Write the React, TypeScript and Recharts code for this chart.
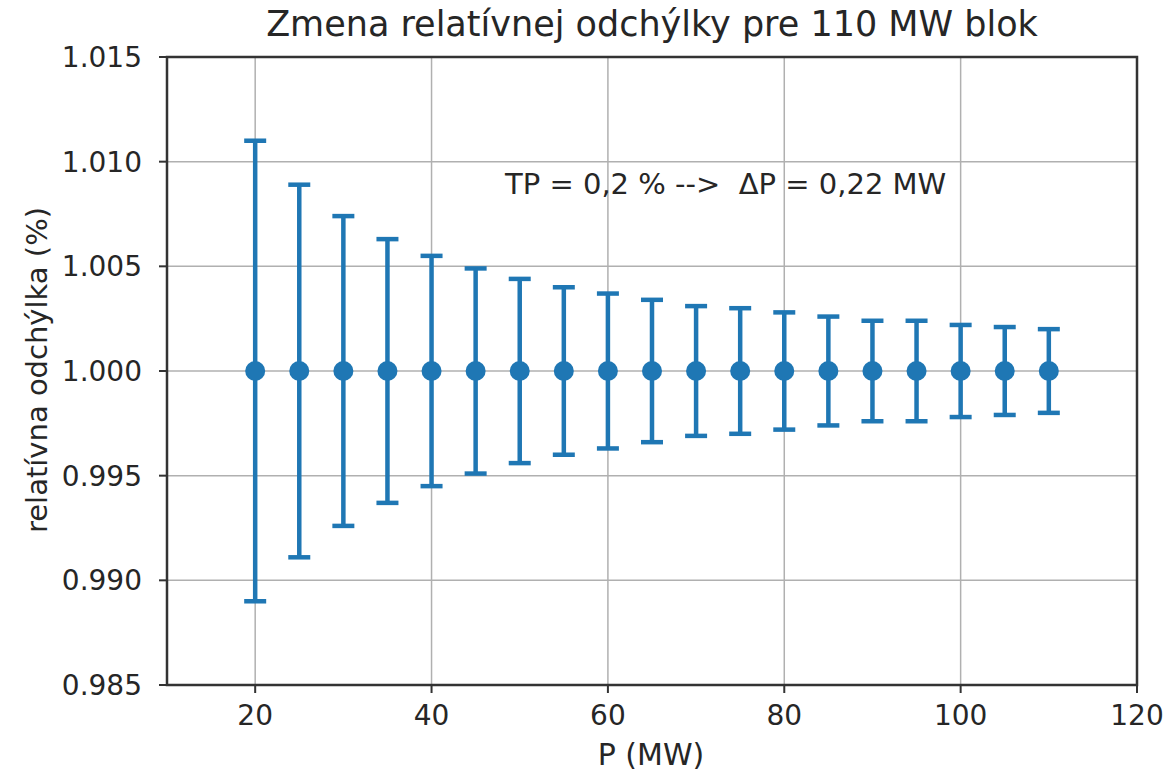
import React from "react";
import {
  ScatterChart,
  Scatter,
  XAxis,
  YAxis,
  CartesianGrid,
  ErrorBar,
  ReferenceArea,
} from "recharts";

const powers = [20, 25, 30, 35, 40, 45, 50, 55, 60, 65, 70, 75, 80, 85, 90, 95, 100, 105, 110];
const deviations = [0.011, 0.0089, 0.0074, 0.0063, 0.0055, 0.0049, 0.0044, 0.004, 0.0037, 0.0034, 0.0031, 0.003, 0.0028, 0.0026, 0.0024, 0.0024, 0.0022, 0.0021, 0.002];
const xTicks = [20, 40, 60, 80, 100, 120];
const yTicks = [0.985, 0.99, 0.995, 1.0, 1.005, 1.01, 1.015];

const data = powers.map((p, i) => ({ p, rel: 1.0, err: deviations[i] }));

const BLUE = "#1f77b4";
const TEXT = "#262626";
const FONT = "'DejaVu Sans', sans-serif";

function Dot(props: { cx?: number; cy?: number }) {
  const { cx, cy } = props;
  if (cx == null || cy == null) return null;
  return <circle cx={cx} cy={cy} r={10} fill={BLUE} />;
}

export default function App() {
  const tick = { fill: TEXT, fontSize: 28, fontFamily: FONT };
  return (
    <div style={{ position: "absolute", left: 0, top: 0, width: 1164, height: 772, background: "#fff", fontFamily: FONT }}>
      <div
        style={{
          position: "absolute",
          left: 167,
          width: 970,
          top: 4,
          textAlign: "center",
          fontSize: 35,
          color: TEXT,
          whiteSpace: "nowrap",
        }}
      >
        Zmena relatívnej odchýlky pre 110 MW blok
      </div>
      <ScatterChart width={1164} height={772} margin={{ top: 57, right: 27, bottom: 37, left: 67 }}>
        <CartesianGrid stroke="#b0b0b0" strokeWidth={1.5} />
        <XAxis
          type="number"
          dataKey="p"
          domain={[10, 120]}
          ticks={xTicks}
          allowDataOverflow
          tick={tick}
          tickSize={8}
          tickMargin={12}
          height={50}
          axisLine={false}
          tickLine={{ stroke: "#333", strokeWidth: 2 }}
        />
        <YAxis
          type="number"
          dataKey="rel"
          domain={[0.985, 1.015]}
          ticks={yTicks}
          allowDataOverflow
          tick={tick}
          tickSize={8}
          tickMargin={17}
          width={100}
          axisLine={false}
          tickLine={{ stroke: "#333", strokeWidth: 2 }}
          tickFormatter={(v: number) => v.toFixed(3)}
        />
        <ReferenceArea x1={10} x2={120} y1={0.985} y2={1.015} fill="none" stroke="#333" strokeWidth={2.5} />
        <Scatter data={data} fill={BLUE} shape={<Dot />} isAnimationActive={false}>
          <ErrorBar dataKey="err" direction="y" width={11} strokeWidth={4.5} stroke={BLUE} />
        </Scatter>
      </ScatterChart>
      <div
        style={{
          position: "absolute",
          left: 505,
          top: 167,
          fontSize: 29,
          color: TEXT,
          whiteSpace: "pre",
        }}
      >
        {"TP = 0,2 % -->  ΔP = 0,22 MW"}
      </div>
      <div
        style={{
          position: "absolute",
          left: 651,
          top: 737,
          transform: "translateX(-50%)",
          fontSize: 30,
          color: TEXT,
          whiteSpace: "nowrap",
        }}
      >
        P (MW)
      </div>
      <div
        style={{
          position: "absolute",
          left: 37,
          top: 370,
          transform: "translate(-50%, -50%) rotate(-90deg)",
          fontSize: 29,
          color: TEXT,
          whiteSpace: "nowrap",
        }}
      >
        relatívna odchýlka (%)
      </div>
    </div>
  );
}
